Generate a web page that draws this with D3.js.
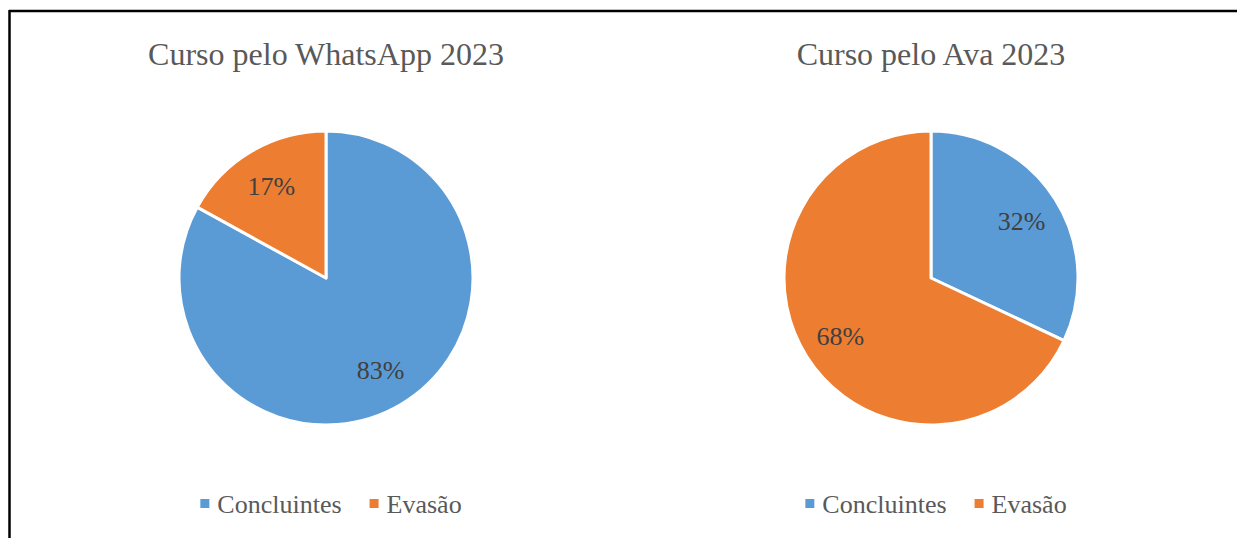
<!DOCTYPE html>
<html>
<head>
<meta charset="utf-8">
<script src="https://cdn.jsdelivr.net/npm/d3@7"></script>
<style>
  body { margin: 0; background: #fff; }
  svg { display: block; font-family: "Liberation Serif", "Times New Roman", serif; }
</style>
</head>
<body>
<svg id="chart"></svg>
<script>
// data
const categories = ["Concluintes", "Evasão"];
const chartTitles = ["Curso pelo WhatsApp 2023", "Curso pelo Ava 2023"];
const whatsappValues = [83, 17];
const avaValues = [32, 68];
const seriesList = [whatsappValues, avaValues];

const width = 1237, height = 538;
const colors = d3.scaleOrdinal().domain(categories).range(["#5B9BD5", "#ED7D31"]);
const radius = 147;
const centersX = [326, 931];
const centerY = 278;

let svg = d3.select("#chart").attr("width", width).attr("height", height);

// frame (only top and left edges are visible)
svg.append("line").attr("x1", 9).attr("y1", 11).attr("x2", width).attr("y2", 11)
    .attr("stroke", "#000").attr("stroke-width", 2.5);
svg.append("line").attr("x1", 9.5).attr("y1", 10).attr("x2", 9.5).attr("y2", height)
    .attr("stroke", "#000").attr("stroke-width", 2.5);

let pie = d3.pie().sort(null).value(d => d.value);
let arc = d3.arc().innerRadius(0).outerRadius(radius);
let labelArc = d3.arc().innerRadius(radius * 0.73).outerRadius(radius * 0.73);

seriesList.forEach(function(values, i) {
    let data = categories.map((c, j) => ({ category: c, value: values[j] }));
    let total = d3.sum(values);

    let g = svg.append("g").attr("transform", `translate(${centersX[i]},${centerY})`);

    g.selectAll("path.slice")
        .data(pie(data))
        .join("path")
        .attr("class", "slice")
        .attr("d", arc)
        .attr("fill", d => colors(d.data.category))
        .attr("stroke", "#fff")
        .attr("stroke-width", 3)
        .attr("stroke-linejoin", "round");

    g.selectAll("text.label")
        .data(pie(data))
        .join("text")
        .attr("class", "label")
        .attr("transform", d => `translate(${labelArc.centroid(d)})`)
        .attr("text-anchor", "middle")
        .attr("dy", "0.35em")
        .attr("font-size", 26)
        .attr("fill", "#404040")
        .text(d => Math.round(d.data.value / total * 100) + "%");

    // title
    svg.append("text")
        .attr("x", centersX[i])
        .attr("y", 65)
        .attr("text-anchor", "middle")
        .attr("font-size", 32)
        .attr("fill", "#595959")
        .text(chartTitles[i]);

    // legend
    let legend = svg.append("g");
    let xPos = 0;
    categories.forEach(function(c, j) {
        let item = legend.append("g").attr("transform", `translate(${xPos},0)`);
        item.append("rect").attr("x", 0).attr("y", -14).attr("width", 9).attr("height", 9)
            .attr("fill", colors(c));
        let t = item.append("text").attr("x", 17).attr("y", 0)
            .attr("font-size", 26).attr("fill", "#595959").text(c);
        xPos += 17 + t.node().getComputedTextLength() + 28;
    });
    let bw = legend.node().getBBox().width;
    legend.attr("transform", `translate(${centersX[i] + 5 - bw / 2},513)`);
});
</script>
</body>
</html>
